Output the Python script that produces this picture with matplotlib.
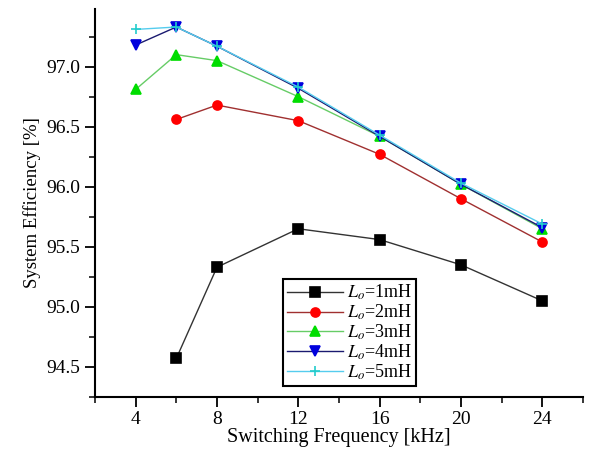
import numpy as np
import matplotlib
matplotlib.use('Agg')
import matplotlib.pyplot as plt
from matplotlib.ticker import MultipleLocator

plt.rcParams['font.family'] = 'Liberation Serif'
plt.rcParams['mathtext.fontset'] = 'stix'

freq_1 = [6, 8, 12, 16, 20, 24]
eff_1 = [94.57, 95.33, 95.65, 95.56, 95.35, 95.05]
freq_2 = [6, 8, 12, 16, 20, 24]
eff_2 = [96.56, 96.68, 96.55, 96.27, 95.90, 95.54]
freq_3 = [4, 6, 8, 12, 16, 20, 24]
eff_3 = [96.81, 97.10, 97.05, 96.75, 96.42, 96.02, 95.65]
freq_4 = [4, 6, 8, 12, 16, 20, 24]
eff_4 = [97.18, 97.33, 97.17, 96.82, 96.42, 96.02, 95.66]
freq_5 = [4, 6, 8, 12, 16, 20, 24]
eff_5 = [97.31, 97.33, 97.17, 96.83, 96.43, 96.03, 95.69]
labels = ['$L_o$=1mH', '$L_o$=2mH', '$L_o$=3mH', '$L_o$=4mH', '$L_o$=5mH']

series = [
    (freq_1, eff_1, '#333333', 's', 'black'),
    (freq_2, eff_2, '#a03030', 'o', 'red'),
    (freq_3, eff_3, '#66cc66', '^', '#00dd00'),
    (freq_4, eff_4, '#1a1a70', 'v', '#0000dd'),
    (freq_5, eff_5, '#55ccee', '+', '#22cccc'),
]

fig = plt.figure(figsize=(5.9, 4.5), dpi=100)
ax = fig.add_axes([0.161, 0.118, 0.827, 0.862])

for (x, y, lc, mk, mc), lab in zip(series, labels):
    ax.plot(x, y, color=lc, lw=1.0, marker=mk, markersize=6.5,
            markerfacecolor=mc, markeredgecolor=mc, markeredgewidth=1.2, label=lab)

ax.set_xlim(2, 26)
ax.set_ylim(94.25, 97.48)
ax.xaxis.set_major_locator(MultipleLocator(4))
ax.xaxis.set_minor_locator(MultipleLocator(2))
ax.yaxis.set_major_locator(MultipleLocator(0.5))
ax.yaxis.set_minor_locator(MultipleLocator(0.25))
ax.yaxis.set_major_formatter(matplotlib.ticker.FormatStrFormatter('%.1f'))

ax.spines['top'].set_visible(False)
ax.spines['right'].set_visible(False)
for s in ['left', 'bottom']:
    ax.spines[s].set_linewidth(1.5)
ax.tick_params(which='major', direction='out', length=7, width=1.3, labelsize=14)
ax.tick_params(which='minor', direction='out', length=4, width=1.1)

ax.set_xlabel('Switching Frequency [kHz]', fontsize=14.5, labelpad=0)
ax.set_ylabel('System Efficiency [%]', fontsize=13.5, labelpad=4)

leg = ax.legend(loc='lower left', bbox_to_anchor=(0.385, 0.028), fontsize=13,
                frameon=True, fancybox=False, edgecolor='black', framealpha=1,
                handlelength=3.1, borderpad=0.25, labelspacing=0.02, handletextpad=0.2,
                borderaxespad=0)
leg.get_frame().set_linewidth(1.5)

fig.savefig('out.png', dpi=100)
